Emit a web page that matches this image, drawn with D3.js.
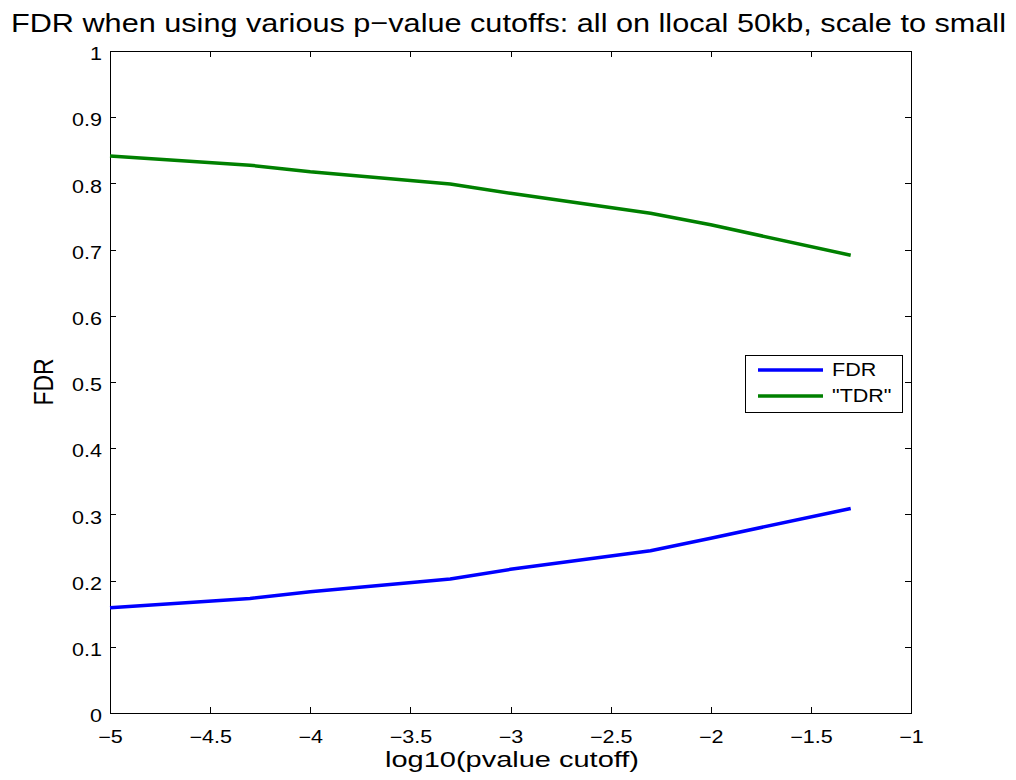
<!DOCTYPE html>
<html>
<head>
<meta charset="utf-8">
<script src="https://cdn.jsdelivr.net/npm/d3@7/dist/d3.min.js"></script>
<style>
  html, body { margin: 0; padding: 0; background: #fff; }
  svg { display: block; font-family: "Liberation Sans", Arial, Helvetica, sans-serif; }
  .axis path, .axis line { stroke: #000; stroke-width: 1; shape-rendering: crispEdges; }
  .axis text { fill: #000; font-size: 17.5px; }
</style>
</head>
<body>
<svg id="chart" width="1016" height="780"></svg>
<script>
// log10 of the p-value cutoffs (1e-5, 5e-5, 1e-4, 5e-4, 1e-3, 5e-3, 0.01, 0.05)
const logCutoff = [-5, -4.301, -4, -3.301, -3, -2.301, -2, -1.301];
const fdrValues = [0.159, 0.173, 0.183, 0.2025, 0.217, 0.245, 0.264, 0.309];
const tdrValues = [0.8415, 0.8275, 0.8175, 0.799, 0.785, 0.755, 0.7375, 0.6915];

const seriesNames = ["FDR", "\"TDR\""];
const seriesColors = ["#0000ff", "#008000"];

const xTicks = [-5, -4.5, -4, -3.5, -3, -2.5, -2, -1.5, -1];
const yTicks = [0, 0.1, 0.2, 0.3, 0.4, 0.5, 0.6, 0.7, 0.8, 0.9, 1];

const titleText = "FDR when using various p\u2212value cutoffs: all on llocal 50kb, scale to small";
const xLabelText = "log10(pvalue cutoff)";
const yLabelText = "FDR";

// horizontal text stretch of the exported figure
const sx = 1.23;

const svg = d3.select("#chart");
const plot = { left: 110, right: 911, top: 51, bottom: 713 };

const x = d3.scaleLinear().domain([-5, -1]).range([plot.left, plot.right]);
const y = d3.scaleLinear().domain([0, 1]).range([plot.bottom, plot.top]);
const fmt = d3.format("~g");
const tick = 6;

// bottom axis with labels
const gx = svg.append("g").attr("class", "axis")
  .attr("transform", `translate(0,${plot.bottom})`)
  .call(d3.axisBottom(x).tickValues(xTicks).tickFormat(fmt)
    .tickSizeInner(-tick).tickSizeOuter(0).tickPadding(18));
gx.selectAll("text").attr("transform", `scale(${sx},1)`).attr("dy", "0.71em");

// top axis, ticks only
svg.append("g").attr("class", "axis")
  .attr("transform", `translate(0,${plot.top})`)
  .call(d3.axisTop(x).tickValues(xTicks).tickFormat("")
    .tickSizeInner(-tick).tickSizeOuter(0));

// left axis with labels
const gy = svg.append("g").attr("class", "axis")
  .attr("transform", `translate(${plot.left},0)`)
  .call(d3.axisLeft(y).tickValues(yTicks).tickFormat(fmt)
    .tickSizeInner(-tick).tickSizeOuter(0));
gy.selectAll("text").attr("x", -8 / sx).attr("dy", "0.5em")
  .attr("transform", `scale(${sx},1)`);

// right axis, ticks only
svg.append("g").attr("class", "axis")
  .attr("transform", `translate(${plot.right},0)`)
  .call(d3.axisRight(y).tickValues(yTicks).tickFormat("")
    .tickSizeInner(-tick).tickSizeOuter(0));

// curves
const series = [fdrValues, tdrValues];
const line = d3.line().x((d, i) => x(logCutoff[i])).y(d => y(d));
series.forEach((vals, k) => {
  svg.append("path")
    .datum(vals)
    .attr("fill", "none")
    .attr("stroke", seriesColors[k])
    .attr("stroke-width", 3.5)
    .attr("stroke-linejoin", "round")
    .attr("d", line);
});

// title
svg.append("text")
  .attr("x", (plot.left + plot.right) / 2 - 2)
  .attr("y", 32)
  .attr("text-anchor", "middle")
  .attr("font-size", 26)
  .attr("fill", "#000")
  .attr("textLength", 995)
  .attr("lengthAdjust", "spacingAndGlyphs")
  .text(titleText);

// x label
svg.append("text")
  .attr("x", 512)
  .attr("y", 767)
  .attr("text-anchor", "middle")
  .attr("font-size", 22)
  .attr("fill", "#000")
  .attr("textLength", 254)
  .attr("lengthAdjust", "spacingAndGlyphs")
  .text(xLabelText);

// y label
svg.append("text")
  .attr("transform", `translate(53,${(plot.top + plot.bottom) / 2}) scale(${sx},1) rotate(-90)`)
  .attr("text-anchor", "middle")
  .attr("font-size", 23)
  .attr("fill", "#000")
  .text(yLabelText);

// legend
const legend = svg.append("g");
legend.append("rect")
  .attr("x", 745).attr("y", 355).attr("width", 157).attr("height", 57)
  .attr("fill", "#fff").attr("stroke", "#000").attr("stroke-width", 1)
  .attr("shape-rendering", "crispEdges");
const rowY = [370, 396];
seriesNames.forEach((name, k) => {
  legend.append("line")
    .attr("x1", 758).attr("x2", 823)
    .attr("y1", rowY[k]).attr("y2", rowY[k])
    .attr("stroke", seriesColors[k]).attr("stroke-width", 3.5);
  legend.append("text")
    .attr("transform", `translate(832,${rowY[k]}) scale(${sx},1)`)
    .attr("dy", "0.36em")
    .attr("font-size", 17.5)
    .attr("fill", "#000")
    .text(name);
});
</script>
</body>
</html>
